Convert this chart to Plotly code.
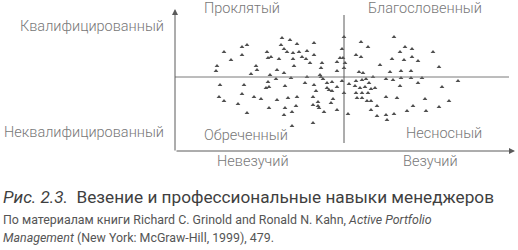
import plotly.graph_objects as go

# Luck (x) and skill (y) of managers, arbitrary units
luck = [-62, -54, -97, -102, -47, -30, -63, -60, -57, -120, -102, -77, -73, -76, -65,
        -51, -45, -37, -51, -42, -38, -30, -34, -22, -113, -127, -128, -88, -87, -93,
        -50, -67, -60, -74, -23, -24, -23, -21, -37, -53, -68, -76, -7, -4, -7,
        -2, 0, 1, -1, 0, -2, -124, -100, -75, -59, -39, -30, -17, -12, -17,
        -15, -12, -7, -28, -78, -102, -90, -83, -125, -120, -67, -56, -47, -31, -26,
        -11, 0, -106, -75, -59, -48, -31, -26, -25, -13, -97, -60, -52, -20, -7,
        4, -52, -31,
        17, 24, 12, 17, 50, 61, 68, 56, 89, 48, 60, 68, 74, 36, 95,
        15, 19, 29, 46, 57, 67, 42, 49, 57, 67, 78, 114, 5, 12, 18,
        22, 11, 16, 21, 25, 31, 27, 12, 18, 24, 56, 74, 98, 13, 18,
        23, 27, 42, 53, 81, 105, 33, 27, 69, 95, 63, 82, 33, 42, 50, 43]
skill = [39, 37, 32, 30, 33, 34, 32, 28, 25, 25, 22, 25, 20, 19, 18,
         24, 25, 26, 18, 20, 18, 22, 14, 14, 17, 11, 6, 11, 7, 3,
         11, 7, 4, 2, 9, 2, 0, -2, 0, -1, -2, -5, 15, 19, 6,
         28, 40, 14, 19, 9, -4, -8, -8, -10, -9, -6, -8, -6, -5, -11,
         -13, -14, -10, -14, -11, -17, -20, -22, -20, -24, -23, -21, -20, -20, -25,
         -22, -16, -27, -31, -31, -29, -28, -29, -31, -26, -36, -38, -35, -35, -33,
         -37, -49, -46,
         35, 30, 22, 20, 40, 30, 28, 25, 25, 18, 17, 20, 16, 12, 10,
         5, 4, 0, 5, 6, 6, -2, -3, -1, -1, -1, -4, -7, -4, -3,
         -2, -9, -11, -10, -6, -11, -12, -16, -16, -16, -9, -6, -10, -21, -21,
         -24, -24, -20, -21, -22, -24, -29, -33, -29, -30, -34, -34, -39, -38, -37, -43]

# Quadrant labels
quad_top = ["Проклятый", "Благословенный"]
quad_bottom = ["Обреченный", "Несносный"]
y_labels = ["Квалифицированный", "Неквалифицированный"]
x_labels = ["Невезучий", "Везучий"]
caption_num = "Рис. 2.3."
caption_text = "Везение и профессиональные навыки менеджеров"
source_1 = "По материалам книги Richard C. Grinold and Ronald N. Kahn, <i>Active Portfolio</i>"
source_2 = "<i>Management</i> (New York: McGraw-Hill, 1999), 479."

W, H = 518, 250
L, R, T, B = 175, 515, 10, 151  # plot area in pixels
XR = [-169, 171]
YR = [-74, 67]

def px(x):
    return (x - L) / (R - L)

def py(y):
    return (B - y) / (B - T)

FONT = "Roboto"
LBL = "#777777"
AX = "#5a5a5a"

fig = go.Figure()
fig.add_trace(go.Scatter(
    x=luck, y=skill, mode="markers",
    marker=dict(symbol="triangle-up", size=4.2, color="#505050", line=dict(width=0)),
    hoverinfo="skip", cliponaxis=False,
))

shapes = [
    dict(type="line", xref="x", yref="y", x0=XR[0], x1=165, y0=0, y1=0,
         line=dict(color="#7a7a7a", width=1)),
    dict(type="line", xref="x", yref="y", x0=0, x1=0, y0=-66, y1=62,
         line=dict(color="#5a5a5a", width=1)),
]

ann = []
# axes with arrows
ann.append(dict(x=px(515), y=py(151), ax=px(175), ay=py(151), xref="x domain", yref="y domain",
                axref="x domain", ayref="y domain", showarrow=True, arrowhead=2, arrowsize=1.2,
                arrowwidth=1, arrowcolor=AX, text=""))
ann.append(dict(x=px(175), y=py(9), ax=px(175), ay=py(152), xref="x domain", yref="y domain",
                axref="x domain", ayref="y domain", showarrow=True, arrowhead=2, arrowsize=1.2,
                arrowwidth=1, arrowcolor=AX, text=""))

def txt(t, x, y, size=14.5, color=LBL, xanchor="center", yanchor="middle", weight=300):
    ann.append(dict(text=t, x=px(x), y=py(y), xref="x domain", yref="y domain", showarrow=False,
                    xanchor=xanchor, yanchor=yanchor,
                    font=dict(family=FONT, size=size, color=color, weight=weight)))

txt(quad_top[0], 242, 8.5)
txt(quad_top[1], 425, 8.5)
txt(quad_bottom[0], 246, 135)
txt(quad_bottom[1], 444, 133)
txt(y_labels[0], 166, 26, xanchor="right")
txt(y_labels[1], 166, 132, xanchor="right")
txt(x_labels[0], 253, 161)
txt(x_labels[1], 430, 161)
txt(f"<i>{caption_num}</i>  {caption_text}", 1, 197, size=17.2, color="#3f3f3f", xanchor="left", weight=400)
txt(source_1, 1, 219, size=12.4, color="#555555", xanchor="left", weight=400)
txt(source_2, 1, 237, size=12.4, color="#555555", xanchor="left", weight=400)

fig.update_layout(
    width=W, height=H,
    margin=dict(l=L, r=W - R, t=T, b=H - B),
    paper_bgcolor="white", plot_bgcolor="white",
    showlegend=False,
    xaxis=dict(range=XR, visible=False, fixedrange=True),
    yaxis=dict(range=YR, visible=False, fixedrange=True),
    shapes=shapes, annotations=ann,
)

fig.write_html("out.html", config={"displayModeBar": False})
